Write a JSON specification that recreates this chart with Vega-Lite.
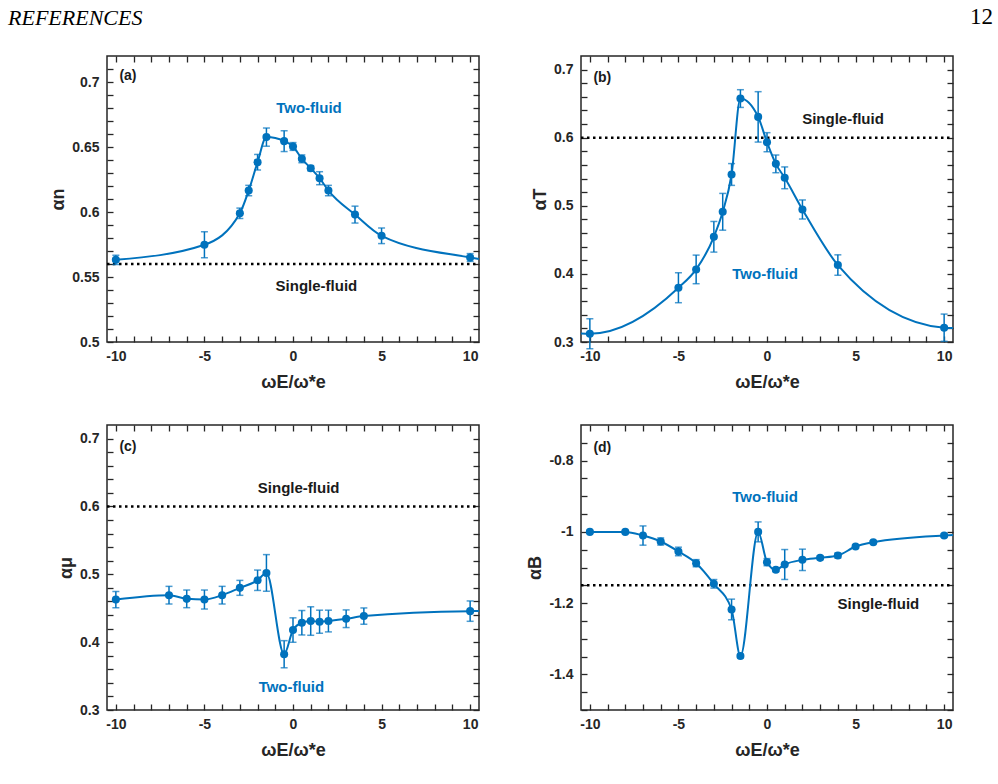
{
  "$schema": "https://vega.github.io/schema/vega-lite/v6.json",
  "padding": {"left": 7, "top": 5, "right": 2, "bottom": 2},
  "background": "white",
  "datasets": {
    "pts": [
      {"panel": "a", "x": -10, "y": 0.5632, "err": 0.0035},
      {"panel": "a", "x": -5, "y": 0.5748, "err": 0.01},
      {"panel": "a", "x": -3, "y": 0.599, "err": 0.004},
      {"panel": "a", "x": -2.5, "y": 0.6165, "err": 0.004},
      {"panel": "a", "x": -2, "y": 0.6383, "err": 0.006},
      {"panel": "a", "x": -1.5, "y": 0.6576, "err": 0.007},
      {"panel": "a", "x": -0.5, "y": 0.6545, "err": 0.008},
      {"panel": "a", "x": 0, "y": 0.6504, "err": 0.003},
      {"panel": "a", "x": 0.5, "y": 0.6409, "err": 0.003},
      {"panel": "a", "x": 1, "y": 0.6337, "err": 0.002},
      {"panel": "a", "x": 1.5, "y": 0.626, "err": 0.005},
      {"panel": "a", "x": 2, "y": 0.6165, "err": 0.004},
      {"panel": "a", "x": 3.5, "y": 0.598, "err": 0.0065},
      {"panel": "a", "x": 5, "y": 0.5817, "err": 0.006},
      {"panel": "a", "x": 10, "y": 0.565, "err": 0.003},
      {"panel": "b", "x": -10, "y": 0.3122, "err": 0.022},
      {"panel": "b", "x": -5, "y": 0.3797, "err": 0.022},
      {"panel": "b", "x": -4, "y": 0.4066, "err": 0.021},
      {"panel": "b", "x": -3, "y": 0.4545, "err": 0.0225},
      {"panel": "b", "x": -2.5, "y": 0.4912, "err": 0.027},
      {"panel": "b", "x": -2, "y": 0.546, "err": 0.016},
      {"panel": "b", "x": -1.5, "y": 0.6575, "err": 0.013},
      {"panel": "b", "x": -0.5, "y": 0.6306, "err": 0.037},
      {"panel": "b", "x": 0, "y": 0.5934, "err": 0.014},
      {"panel": "b", "x": 0.5, "y": 0.5616, "err": 0.013},
      {"panel": "b", "x": 1, "y": 0.5411, "err": 0.016},
      {"panel": "b", "x": 2, "y": 0.4946, "err": 0.014},
      {"panel": "b", "x": 4, "y": 0.413, "err": 0.015},
      {"panel": "b", "x": 10, "y": 0.321, "err": 0.02},
      {"panel": "c", "x": -10, "y": 0.4628, "err": 0.012},
      {"panel": "c", "x": -7, "y": 0.4692, "err": 0.013},
      {"panel": "c", "x": -6, "y": 0.4638, "err": 0.013},
      {"panel": "c", "x": -5, "y": 0.4628, "err": 0.014},
      {"panel": "c", "x": -4, "y": 0.4692, "err": 0.013},
      {"panel": "c", "x": -3, "y": 0.48, "err": 0.011},
      {"panel": "c", "x": -2, "y": 0.4912, "err": 0.015},
      {"panel": "c", "x": -1.5, "y": 0.502, "err": 0.027},
      {"panel": "c", "x": -0.5, "y": 0.3822, "err": 0.02},
      {"panel": "c", "x": 0, "y": 0.4178, "err": 0.018},
      {"panel": "c", "x": 0.5, "y": 0.4286, "err": 0.018},
      {"panel": "c", "x": 1, "y": 0.4311, "err": 0.021},
      {"panel": "c", "x": 1.5, "y": 0.4301, "err": 0.017},
      {"panel": "c", "x": 2, "y": 0.4311, "err": 0.016},
      {"panel": "c", "x": 3, "y": 0.4345, "err": 0.013},
      {"panel": "c", "x": 4, "y": 0.4384, "err": 0.012},
      {"panel": "c", "x": 10, "y": 0.4457, "err": 0.015},
      {"panel": "d", "x": -10, "y": -1.0, "err": 0.004},
      {"panel": "d", "x": -8, "y": -1.0, "err": 0.004},
      {"panel": "d", "x": -7, "y": -1.0103, "err": 0.027},
      {"panel": "d", "x": -6, "y": -1.027, "err": 0.01},
      {"panel": "d", "x": -5, "y": -1.055, "err": 0.012},
      {"panel": "d", "x": -4, "y": -1.0879, "err": 0.01},
      {"panel": "d", "x": -3, "y": -1.1458, "err": 0.012},
      {"panel": "d", "x": -2, "y": -1.2178, "err": 0.029},
      {"panel": "d", "x": -1.5, "y": -1.3486, "err": 0.005},
      {"panel": "d", "x": -0.5, "y": -1.0, "err": 0.028},
      {"panel": "d", "x": 0, "y": -1.085, "err": 0.01},
      {"panel": "d", "x": 0.5, "y": -1.1065, "err": 0.005},
      {"panel": "d", "x": 1, "y": -1.0916, "err": 0.042},
      {"panel": "d", "x": 2, "y": -1.0785, "err": 0.03},
      {"panel": "d", "x": 3, "y": -1.0729, "err": 0.005},
      {"panel": "d", "x": 4, "y": -1.0664, "err": 0.007},
      {"panel": "d", "x": 5, "y": -1.0411, "err": 0.005},
      {"panel": "d", "x": 6, "y": -1.029, "err": 0.004},
      {"panel": "d", "x": 10, "y": -1.0103, "err": 0.005}
    ],
    "curve": [
      {"panel": "a", "x": -10, "y": 0.5632},
      {"panel": "a", "x": -5, "y": 0.5748},
      {"panel": "a", "x": -3, "y": 0.599},
      {"panel": "a", "x": -2.5, "y": 0.6165},
      {"panel": "a", "x": -2, "y": 0.6383},
      {"panel": "a", "x": -1.5, "y": 0.6576},
      {"panel": "a", "x": -0.5, "y": 0.6545},
      {"panel": "a", "x": 0, "y": 0.6504},
      {"panel": "a", "x": 0.5, "y": 0.6409},
      {"panel": "a", "x": 1, "y": 0.6337},
      {"panel": "a", "x": 1.5, "y": 0.626},
      {"panel": "a", "x": 2, "y": 0.6165},
      {"panel": "a", "x": 3.5, "y": 0.598},
      {"panel": "a", "x": 5, "y": 0.5817},
      {"panel": "a", "x": 10, "y": 0.565},
      {"panel": "a", "x": 10.5, "y": 0.5638},
      {"panel": "b", "x": -10.5, "y": 0.3125},
      {"panel": "b", "x": -10, "y": 0.3122},
      {"panel": "b", "x": -5, "y": 0.3797},
      {"panel": "b", "x": -4, "y": 0.4066},
      {"panel": "b", "x": -3, "y": 0.4545},
      {"panel": "b", "x": -2.5, "y": 0.4912},
      {"panel": "b", "x": -2, "y": 0.546},
      {"panel": "b", "x": -1.5, "y": 0.6575},
      {"panel": "b", "x": -0.5, "y": 0.6306},
      {"panel": "b", "x": 0, "y": 0.5934},
      {"panel": "b", "x": 0.5, "y": 0.5616},
      {"panel": "b", "x": 1, "y": 0.5411},
      {"panel": "b", "x": 2, "y": 0.4946},
      {"panel": "b", "x": 4, "y": 0.413},
      {"panel": "b", "x": 10, "y": 0.321},
      {"panel": "b", "x": 10.5, "y": 0.3205},
      {"panel": "c", "x": -10, "y": 0.4628},
      {"panel": "c", "x": -7, "y": 0.4692},
      {"panel": "c", "x": -6, "y": 0.4638},
      {"panel": "c", "x": -5, "y": 0.4628},
      {"panel": "c", "x": -4, "y": 0.4692},
      {"panel": "c", "x": -3, "y": 0.48},
      {"panel": "c", "x": -2, "y": 0.4912},
      {"panel": "c", "x": -1.5, "y": 0.502},
      {"panel": "c", "x": -0.5, "y": 0.3822},
      {"panel": "c", "x": 0, "y": 0.4178},
      {"panel": "c", "x": 0.5, "y": 0.4286},
      {"panel": "c", "x": 1, "y": 0.4311},
      {"panel": "c", "x": 1.5, "y": 0.4301},
      {"panel": "c", "x": 2, "y": 0.4311},
      {"panel": "c", "x": 3, "y": 0.4345},
      {"panel": "c", "x": 4, "y": 0.4384},
      {"panel": "c", "x": 10, "y": 0.4457},
      {"panel": "c", "x": 10.5, "y": 0.4458},
      {"panel": "d", "x": -10, "y": -1.0},
      {"panel": "d", "x": -8, "y": -1.0},
      {"panel": "d", "x": -7, "y": -1.0103},
      {"panel": "d", "x": -6, "y": -1.027},
      {"panel": "d", "x": -5, "y": -1.055},
      {"panel": "d", "x": -4, "y": -1.0879},
      {"panel": "d", "x": -3, "y": -1.1458},
      {"panel": "d", "x": -2, "y": -1.2178},
      {"panel": "d", "x": -1.5, "y": -1.3486},
      {"panel": "d", "x": -0.5, "y": -1.0},
      {"panel": "d", "x": 0, "y": -1.085},
      {"panel": "d", "x": 0.5, "y": -1.1065},
      {"panel": "d", "x": 1, "y": -1.0916},
      {"panel": "d", "x": 2, "y": -1.0785},
      {"panel": "d", "x": 3, "y": -1.0729},
      {"panel": "d", "x": 4, "y": -1.0664},
      {"panel": "d", "x": 5, "y": -1.0411},
      {"panel": "d", "x": 6, "y": -1.029},
      {"panel": "d", "x": 10, "y": -1.0103},
      {"panel": "d", "x": 10.5, "y": -1.009}
    ],
    "sf": [
      {"panel": "a", "x": -10.5, "y": 0.56},
      {"panel": "a", "x": 10.5, "y": 0.56},
      {"panel": "b", "x": -10.5, "y": 0.6},
      {"panel": "b", "x": 10.5, "y": 0.6},
      {"panel": "c", "x": -10.5, "y": 0.6},
      {"panel": "c", "x": 10.5, "y": 0.6},
      {"panel": "d", "x": -10.5, "y": -1.15},
      {"panel": "d", "x": 10.5, "y": -1.15}
    ],
    "txt": [
      {"panel": "a", "kind": "two", "label": "Two-fluid", "x": 0.9, "y": 0.68},
      {"panel": "a", "kind": "single", "label": "Single-fluid", "x": 1.32, "y": 0.5427},
      {"panel": "a", "kind": "panel", "label": "(a)", "x": -9.8, "y": 0.7044},
      {"panel": "b", "kind": "single", "label": "Single-fluid", "x": 4.29, "y": 0.628},
      {"panel": "b", "kind": "two", "label": "Two-fluid", "x": -0.11, "y": 0.4},
      {"panel": "b", "kind": "panel", "label": "(b)", "x": -9.8, "y": 0.6878},
      {"panel": "c", "kind": "single", "label": "Single-fluid", "x": 0.32, "y": 0.6276},
      {"panel": "c", "kind": "two", "label": "Two-fluid", "x": -0.09, "y": 0.3333},
      {"panel": "c", "kind": "panel", "label": "(c)", "x": -9.8, "y": 0.688},
      {"panel": "d", "kind": "two", "label": "Two-fluid", "x": -0.11, "y": -0.901},
      {"panel": "d", "kind": "single", "label": "Single-fluid", "x": 6.29, "y": -1.2019},
      {"panel": "d", "kind": "panel", "label": "(d)", "x": -9.8, "y": -0.7645}
    ]
  },
  "bounds": "flush",
  "columns": 2,
  "spacing": {"row": 83, "column": 102},
  "concat": [
    {
      "width": 372, "height": 286,
      "title": {"text": "REFERENCES", "anchor": "start", "frame": "group", "dx": -99, "offset": 8, "baseline": "alphabetic", "font": "Liberation Serif", "fontStyle": "italic", "fontWeight": "normal", "fontSize": 22, "color": "black"},
      "resolve": {"axis": {"x": "independent", "y": "independent"}},
      "layer": [
        {"data": {"name": "sf"}, "transform": [{"filter": "datum.panel === 'a'"}],
         "mark": {"type": "line", "color": "black", "strokeDash": [2.5, 3.5], "strokeWidth": 2.5},
         "encoding": {
           "x": {"field": "x", "type": "quantitative", "scale": {"domain": [-10.5, 10.5], "nice": false, "zero": false},
                 "axis": {"orient": "bottom", "values": [-10,-9,-8,-7,-6,-5,-4,-3,-2,-1,0,1,2,3,4,5,6,7,8,9,10], "labelExpr": "datum.value % 5 === 0 ? '' + datum.value : ''", "tickSize": -6, "labelPadding": 13, "title": "ωE/ω*e", "titlePadding": 10}},
           "y": {"field": "y", "type": "quantitative", "scale": {"domain": [0.5, 0.72], "nice": false, "zero": false},
                 "axis": {"orient": "left", "values": [0.5,0.51,0.52,0.53,0.54,0.55,0.56,0.57,0.58,0.59,0.6,0.61,0.62,0.63,0.64,0.65,0.66,0.67,0.68,0.69,0.7,0.71], "labelExpr": "abs(round(datum.value*100)) % 5 === 0 ? '' + datum.value : ''", "tickSize": -6, "labelPadding": 14, "title": "αn"}}
         }},
        {"data": {"name": "curve"}, "transform": [{"filter": "datum.panel === 'a'"}],
         "mark": {"type": "line", "interpolate": "monotone", "color": "#0072BD", "strokeWidth": 2},
         "encoding": {
           "x": {"field": "x", "type": "quantitative", "scale": {"domain": [-10.5, 10.5], "nice": false, "zero": false},
                 "axis": {"orient": "top", "values": [-10,-9,-8,-7,-6,-5,-4,-3,-2,-1,0,1,2,3,4,5,6,7,8,9,10], "labels": false, "tickSize": -6, "title": null}},
           "y": {"field": "y", "type": "quantitative", "scale": {"domain": [0.5, 0.72], "nice": false, "zero": false},
                 "axis": {"orient": "right", "values": [0.5,0.51,0.52,0.53,0.54,0.55,0.56,0.57,0.58,0.59,0.6,0.61,0.62,0.63,0.64,0.65,0.66,0.67,0.68,0.69,0.7,0.71], "labels": false, "tickSize": -6, "title": null}}
         }},
        {"data": {"name": "pts"}, "transform": [{"filter": "datum.panel === 'a'"}],
         "mark": {"type": "errorbar", "color": "#0072BD", "ticks": {"size": 7, "thickness": 1.5, "color": "#0072BD"}, "rule": {"strokeWidth": 1.5, "color": "#0072BD"}},
         "encoding": {
           "x": {"field": "x", "type": "quantitative", "scale": {"domain": [-10.5, 10.5], "nice": false, "zero": false}, "axis": null},
           "y": {"field": "y", "type": "quantitative", "scale": {"domain": [0.5, 0.72], "nice": false, "zero": false}, "axis": null},
           "yError": {"field": "err"}
         }},
        {"data": {"name": "pts"}, "transform": [{"filter": "datum.panel === 'a'"}],
         "mark": {"type": "circle", "size": 65, "color": "#0072BD", "opacity": 1},
         "encoding": {
           "x": {"field": "x", "type": "quantitative", "scale": {"domain": [-10.5, 10.5], "nice": false, "zero": false}, "axis": null},
           "y": {"field": "y", "type": "quantitative", "scale": {"domain": [0.5, 0.72], "nice": false, "zero": false}, "axis": null}
         }},
        {"data": {"name": "txt"}, "transform": [{"filter": "datum.panel === 'a' && datum.kind !== 'panel'"}],
         "mark": {"type": "text", "font": "Liberation Sans", "fontSize": 15, "fontWeight": "bold", "align": "center", "baseline": "middle"},
         "encoding": {
           "x": {"field": "x", "type": "quantitative", "scale": {"domain": [-10.5, 10.5], "nice": false, "zero": false}, "axis": null},
           "y": {"field": "y", "type": "quantitative", "scale": {"domain": [0.5, 0.72], "nice": false, "zero": false}, "axis": null},
           "text": {"field": "label"},
           "color": {"field": "kind", "type": "nominal", "scale": {"domain": ["two", "single"], "range": ["#0072BD", "#1a1a1a"]}, "legend": null}
         }},
        {"data": {"name": "txt"}, "transform": [{"filter": "datum.panel === 'a' && datum.kind === 'panel'"}],
         "mark": {"type": "text", "font": "Liberation Sans", "fontSize": 14, "fontWeight": "bold", "align": "left", "baseline": "middle", "color": "#1a1a1a"},
         "encoding": {
           "x": {"field": "x", "type": "quantitative", "scale": {"domain": [-10.5, 10.5], "nice": false, "zero": false}, "axis": null},
           "y": {"field": "y", "type": "quantitative", "scale": {"domain": [0.5, 0.72], "nice": false, "zero": false}, "axis": null},
           "text": {"field": "label"}
         }}
      ]
    },
    {
      "width": 372, "height": 286,
      "title": {"text": "12", "anchor": "end", "frame": "group", "dx": 40, "offset": 8, "baseline": "alphabetic", "font": "Liberation Serif", "fontStyle": "normal", "fontWeight": "normal", "fontSize": 23, "color": "black"},
      "resolve": {"axis": {"x": "independent", "y": "independent"}},
      "layer": [
        {"data": {"name": "sf"}, "transform": [{"filter": "datum.panel === 'b'"}],
         "mark": {"type": "line", "color": "black", "strokeDash": [2.5, 3.5], "strokeWidth": 2.5},
         "encoding": {
           "x": {"field": "x", "type": "quantitative", "scale": {"domain": [-10.5, 10.5], "nice": false, "zero": false},
                 "axis": {"orient": "bottom", "values": [-10,-9,-8,-7,-6,-5,-4,-3,-2,-1,0,1,2,3,4,5,6,7,8,9,10], "labelExpr": "datum.value % 5 === 0 ? '' + datum.value : ''", "tickSize": -6, "labelPadding": 13, "title": "ωE/ω*e", "titlePadding": 10}},
           "y": {"field": "y", "type": "quantitative", "scale": {"domain": [0.3, 0.72], "nice": false, "zero": false},
                 "axis": {"orient": "left", "values": [0.3,0.32,0.34,0.36,0.38,0.4,0.42,0.44,0.46,0.48,0.5,0.52,0.54,0.56,0.58,0.6,0.62,0.64,0.66,0.68,0.7], "labelExpr": "abs(round(datum.value*100)) % 10 === 0 ? '' + datum.value : ''", "tickSize": -6, "labelPadding": 14, "title": "αT"}}
         }},
        {"data": {"name": "curve"}, "transform": [{"filter": "datum.panel === 'b'"}],
         "mark": {"type": "line", "interpolate": "monotone", "color": "#0072BD", "strokeWidth": 2},
         "encoding": {
           "x": {"field": "x", "type": "quantitative", "scale": {"domain": [-10.5, 10.5], "nice": false, "zero": false},
                 "axis": {"orient": "top", "values": [-10,-9,-8,-7,-6,-5,-4,-3,-2,-1,0,1,2,3,4,5,6,7,8,9,10], "labels": false, "tickSize": -6, "title": null}},
           "y": {"field": "y", "type": "quantitative", "scale": {"domain": [0.3, 0.72], "nice": false, "zero": false},
                 "axis": {"orient": "right", "values": [0.3,0.32,0.34,0.36,0.38,0.4,0.42,0.44,0.46,0.48,0.5,0.52,0.54,0.56,0.58,0.6,0.62,0.64,0.66,0.68,0.7], "labels": false, "tickSize": -6, "title": null}}
         }},
        {"data": {"name": "pts"}, "transform": [{"filter": "datum.panel === 'b'"}],
         "mark": {"type": "errorbar", "color": "#0072BD", "ticks": {"size": 7, "thickness": 1.5, "color": "#0072BD"}, "rule": {"strokeWidth": 1.5, "color": "#0072BD"}},
         "encoding": {
           "x": {"field": "x", "type": "quantitative", "scale": {"domain": [-10.5, 10.5], "nice": false, "zero": false}, "axis": null},
           "y": {"field": "y", "type": "quantitative", "scale": {"domain": [0.3, 0.72], "nice": false, "zero": false}, "axis": null},
           "yError": {"field": "err"}
         }},
        {"data": {"name": "pts"}, "transform": [{"filter": "datum.panel === 'b'"}],
         "mark": {"type": "circle", "size": 65, "color": "#0072BD", "opacity": 1},
         "encoding": {
           "x": {"field": "x", "type": "quantitative", "scale": {"domain": [-10.5, 10.5], "nice": false, "zero": false}, "axis": null},
           "y": {"field": "y", "type": "quantitative", "scale": {"domain": [0.3, 0.72], "nice": false, "zero": false}, "axis": null}
         }},
        {"data": {"name": "txt"}, "transform": [{"filter": "datum.panel === 'b' && datum.kind !== 'panel'"}],
         "mark": {"type": "text", "font": "Liberation Sans", "fontSize": 15, "fontWeight": "bold", "align": "center", "baseline": "middle"},
         "encoding": {
           "x": {"field": "x", "type": "quantitative", "scale": {"domain": [-10.5, 10.5], "nice": false, "zero": false}, "axis": null},
           "y": {"field": "y", "type": "quantitative", "scale": {"domain": [0.3, 0.72], "nice": false, "zero": false}, "axis": null},
           "text": {"field": "label"},
           "color": {"field": "kind", "type": "nominal", "scale": {"domain": ["two", "single"], "range": ["#0072BD", "#1a1a1a"]}, "legend": null}
         }},
        {"data": {"name": "txt"}, "transform": [{"filter": "datum.panel === 'b' && datum.kind === 'panel'"}],
         "mark": {"type": "text", "font": "Liberation Sans", "fontSize": 14, "fontWeight": "bold", "align": "left", "baseline": "middle", "color": "#1a1a1a"},
         "encoding": {
           "x": {"field": "x", "type": "quantitative", "scale": {"domain": [-10.5, 10.5], "nice": false, "zero": false}, "axis": null},
           "y": {"field": "y", "type": "quantitative", "scale": {"domain": [0.3, 0.72], "nice": false, "zero": false}, "axis": null},
           "text": {"field": "label"}
         }}
      ]
    },
    {
      "width": 372, "height": 285,
      "resolve": {"axis": {"x": "independent", "y": "independent"}},
      "layer": [
        {"data": {"name": "sf"}, "transform": [{"filter": "datum.panel === 'c'"}],
         "mark": {"type": "line", "color": "black", "strokeDash": [2.5, 3.5], "strokeWidth": 2.5},
         "encoding": {
           "x": {"field": "x", "type": "quantitative", "scale": {"domain": [-10.5, 10.5], "nice": false, "zero": false},
                 "axis": {"orient": "bottom", "values": [-10,-9,-8,-7,-6,-5,-4,-3,-2,-1,0,1,2,3,4,5,6,7,8,9,10], "labelExpr": "datum.value % 5 === 0 ? '' + datum.value : ''", "tickSize": -6, "labelPadding": 13, "title": "ωE/ω*e", "titlePadding": 10}},
           "y": {"field": "y", "type": "quantitative", "scale": {"domain": [0.3, 0.72], "nice": false, "zero": false},
                 "axis": {"orient": "left", "values": [0.3,0.32,0.34,0.36,0.38,0.4,0.42,0.44,0.46,0.48,0.5,0.52,0.54,0.56,0.58,0.6,0.62,0.64,0.66,0.68,0.7], "labelExpr": "abs(round(datum.value*100)) % 10 === 0 ? '' + datum.value : ''", "tickSize": -6, "labelPadding": 14, "title": "αμ"}}
         }},
        {"data": {"name": "curve"}, "transform": [{"filter": "datum.panel === 'c'"}],
         "mark": {"type": "line", "interpolate": "monotone", "color": "#0072BD", "strokeWidth": 2},
         "encoding": {
           "x": {"field": "x", "type": "quantitative", "scale": {"domain": [-10.5, 10.5], "nice": false, "zero": false},
                 "axis": {"orient": "top", "values": [-10,-9,-8,-7,-6,-5,-4,-3,-2,-1,0,1,2,3,4,5,6,7,8,9,10], "labels": false, "tickSize": -6, "title": null}},
           "y": {"field": "y", "type": "quantitative", "scale": {"domain": [0.3, 0.72], "nice": false, "zero": false},
                 "axis": {"orient": "right", "values": [0.3,0.32,0.34,0.36,0.38,0.4,0.42,0.44,0.46,0.48,0.5,0.52,0.54,0.56,0.58,0.6,0.62,0.64,0.66,0.68,0.7], "labels": false, "tickSize": -6, "title": null}}
         }},
        {"data": {"name": "pts"}, "transform": [{"filter": "datum.panel === 'c'"}],
         "mark": {"type": "errorbar", "color": "#0072BD", "ticks": {"size": 7, "thickness": 1.5, "color": "#0072BD"}, "rule": {"strokeWidth": 1.5, "color": "#0072BD"}},
         "encoding": {
           "x": {"field": "x", "type": "quantitative", "scale": {"domain": [-10.5, 10.5], "nice": false, "zero": false}, "axis": null},
           "y": {"field": "y", "type": "quantitative", "scale": {"domain": [0.3, 0.72], "nice": false, "zero": false}, "axis": null},
           "yError": {"field": "err"}
         }},
        {"data": {"name": "pts"}, "transform": [{"filter": "datum.panel === 'c'"}],
         "mark": {"type": "circle", "size": 65, "color": "#0072BD", "opacity": 1},
         "encoding": {
           "x": {"field": "x", "type": "quantitative", "scale": {"domain": [-10.5, 10.5], "nice": false, "zero": false}, "axis": null},
           "y": {"field": "y", "type": "quantitative", "scale": {"domain": [0.3, 0.72], "nice": false, "zero": false}, "axis": null}
         }},
        {"data": {"name": "txt"}, "transform": [{"filter": "datum.panel === 'c' && datum.kind !== 'panel'"}],
         "mark": {"type": "text", "font": "Liberation Sans", "fontSize": 15, "fontWeight": "bold", "align": "center", "baseline": "middle"},
         "encoding": {
           "x": {"field": "x", "type": "quantitative", "scale": {"domain": [-10.5, 10.5], "nice": false, "zero": false}, "axis": null},
           "y": {"field": "y", "type": "quantitative", "scale": {"domain": [0.3, 0.72], "nice": false, "zero": false}, "axis": null},
           "text": {"field": "label"},
           "color": {"field": "kind", "type": "nominal", "scale": {"domain": ["two", "single"], "range": ["#0072BD", "#1a1a1a"]}, "legend": null}
         }},
        {"data": {"name": "txt"}, "transform": [{"filter": "datum.panel === 'c' && datum.kind === 'panel'"}],
         "mark": {"type": "text", "font": "Liberation Sans", "fontSize": 14, "fontWeight": "bold", "align": "left", "baseline": "middle", "color": "#1a1a1a"},
         "encoding": {
           "x": {"field": "x", "type": "quantitative", "scale": {"domain": [-10.5, 10.5], "nice": false, "zero": false}, "axis": null},
           "y": {"field": "y", "type": "quantitative", "scale": {"domain": [0.3, 0.72], "nice": false, "zero": false}, "axis": null},
           "text": {"field": "label"}
         }}
      ]
    },
    {
      "width": 372, "height": 285,
      "resolve": {"axis": {"x": "independent", "y": "independent"}},
      "layer": [
        {"data": {"name": "sf"}, "transform": [{"filter": "datum.panel === 'd'"}],
         "mark": {"type": "line", "color": "black", "strokeDash": [2.5, 3.5], "strokeWidth": 2.5},
         "encoding": {
           "x": {"field": "x", "type": "quantitative", "scale": {"domain": [-10.5, 10.5], "nice": false, "zero": false},
                 "axis": {"orient": "bottom", "values": [-10,-9,-8,-7,-6,-5,-4,-3,-2,-1,0,1,2,3,4,5,6,7,8,9,10], "labelExpr": "datum.value % 5 === 0 ? '' + datum.value : ''", "tickSize": -6, "labelPadding": 13, "title": "ωE/ω*e", "titlePadding": 10}},
           "y": {"field": "y", "type": "quantitative", "scale": {"domain": [-1.5, -0.7], "nice": false, "zero": false},
                 "axis": {"orient": "left", "values": [-1.5,-1.45,-1.4,-1.35,-1.3,-1.25,-1.2,-1.15,-1.1,-1.05,-1,-0.95,-0.9,-0.85,-0.8,-0.75], "labelExpr": "abs(round(datum.value*100)) % 20 === 0 ? '' + datum.value : ''", "tickSize": -6, "labelPadding": 14, "title": "αB"}}
         }},
        {"data": {"name": "curve"}, "transform": [{"filter": "datum.panel === 'd'"}],
         "mark": {"type": "line", "interpolate": "monotone", "color": "#0072BD", "strokeWidth": 2},
         "encoding": {
           "x": {"field": "x", "type": "quantitative", "scale": {"domain": [-10.5, 10.5], "nice": false, "zero": false},
                 "axis": {"orient": "top", "values": [-10,-9,-8,-7,-6,-5,-4,-3,-2,-1,0,1,2,3,4,5,6,7,8,9,10], "labels": false, "tickSize": -6, "title": null}},
           "y": {"field": "y", "type": "quantitative", "scale": {"domain": [-1.5, -0.7], "nice": false, "zero": false},
                 "axis": {"orient": "right", "values": [-1.5,-1.45,-1.4,-1.35,-1.3,-1.25,-1.2,-1.15,-1.1,-1.05,-1,-0.95,-0.9,-0.85,-0.8,-0.75], "labels": false, "tickSize": -6, "title": null}}
         }},
        {"data": {"name": "pts"}, "transform": [{"filter": "datum.panel === 'd'"}],
         "mark": {"type": "errorbar", "color": "#0072BD", "ticks": {"size": 7, "thickness": 1.5, "color": "#0072BD"}, "rule": {"strokeWidth": 1.5, "color": "#0072BD"}},
         "encoding": {
           "x": {"field": "x", "type": "quantitative", "scale": {"domain": [-10.5, 10.5], "nice": false, "zero": false}, "axis": null},
           "y": {"field": "y", "type": "quantitative", "scale": {"domain": [-1.5, -0.7], "nice": false, "zero": false}, "axis": null},
           "yError": {"field": "err"}
         }},
        {"data": {"name": "pts"}, "transform": [{"filter": "datum.panel === 'd'"}],
         "mark": {"type": "circle", "size": 65, "color": "#0072BD", "opacity": 1},
         "encoding": {
           "x": {"field": "x", "type": "quantitative", "scale": {"domain": [-10.5, 10.5], "nice": false, "zero": false}, "axis": null},
           "y": {"field": "y", "type": "quantitative", "scale": {"domain": [-1.5, -0.7], "nice": false, "zero": false}, "axis": null}
         }},
        {"data": {"name": "txt"}, "transform": [{"filter": "datum.panel === 'd' && datum.kind !== 'panel'"}],
         "mark": {"type": "text", "font": "Liberation Sans", "fontSize": 15, "fontWeight": "bold", "align": "center", "baseline": "middle"},
         "encoding": {
           "x": {"field": "x", "type": "quantitative", "scale": {"domain": [-10.5, 10.5], "nice": false, "zero": false}, "axis": null},
           "y": {"field": "y", "type": "quantitative", "scale": {"domain": [-1.5, -0.7], "nice": false, "zero": false}, "axis": null},
           "text": {"field": "label"},
           "color": {"field": "kind", "type": "nominal", "scale": {"domain": ["two", "single"], "range": ["#0072BD", "#1a1a1a"]}, "legend": null}
         }},
        {"data": {"name": "txt"}, "transform": [{"filter": "datum.panel === 'd' && datum.kind === 'panel'"}],
         "mark": {"type": "text", "font": "Liberation Sans", "fontSize": 14, "fontWeight": "bold", "align": "left", "baseline": "middle", "color": "#1a1a1a"},
         "encoding": {
           "x": {"field": "x", "type": "quantitative", "scale": {"domain": [-10.5, 10.5], "nice": false, "zero": false}, "axis": null},
           "y": {"field": "y", "type": "quantitative", "scale": {"domain": [-1.5, -0.7], "nice": false, "zero": false}, "axis": null},
           "text": {"field": "label"}
         }}
      ]
    }
  ],
  "config": {
    "view": {"stroke": "#262626", "strokeWidth": 1.5},
    "font": "Liberation Sans",
    "axis": {"labelFont": "Liberation Sans", "labelFontWeight": "bold", "labelFontSize": 14, "labelColor": "#262626", "tickColor": "#262626", "tickWidth": 1.3, "domain": false, "grid": false, "labelOverlap": false, "labelFlush": false, "titleFont": "Liberation Sans", "titleFontWeight": "bold", "titleColor": "#262626", "titleFontSize": 18}
  }
}
